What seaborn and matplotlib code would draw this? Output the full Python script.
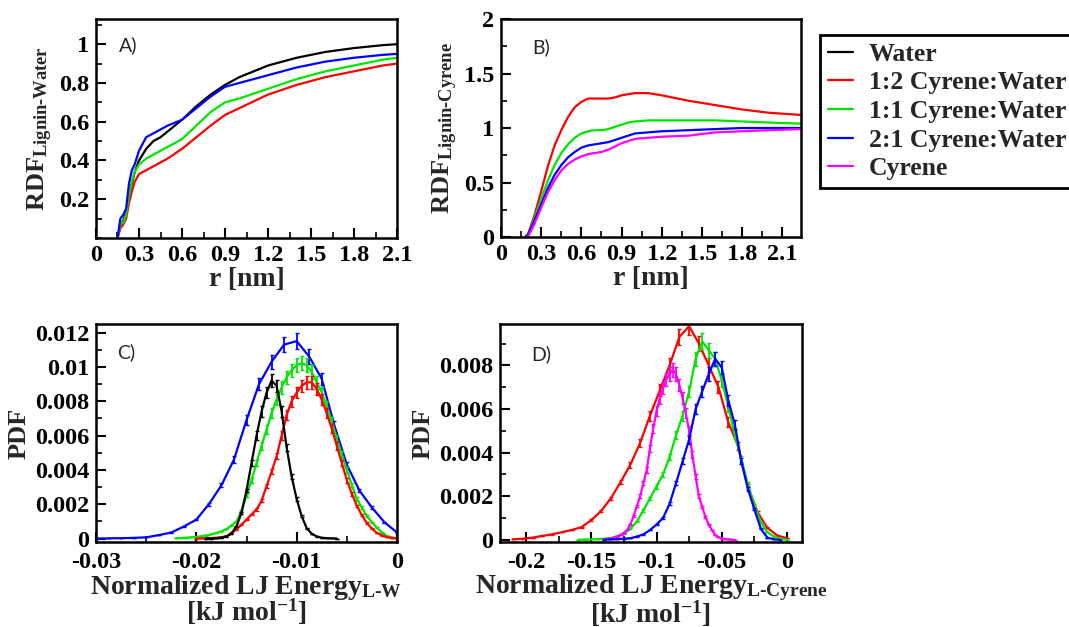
import numpy as np
import matplotlib
matplotlib.use("Agg")
import matplotlib.pyplot as plt
import seaborn as sns
from matplotlib.lines import Line2D
from matplotlib.ticker import MultipleLocator, FuncFormatter

# Lignin solvation: RDFs (top) and normalized LJ energy PDFs (bottom)

labels = ["Water", "1:2 Cyrene:Water", "1:1 Cyrene:Water", "2:1 Cyrene:Water", "Cyrene"]
colors = ["black", "#ff0000", "#00e600", "#0000ff", "#ff00ff"]

# A) RDF lignin-water
r_a = [0.15, 0.17, 0.19, 0.21, 0.23, 0.25, 0.27, 0.30, 0.35, 0.40, 0.45, 0.50,
       0.60, 0.70, 0.80, 0.90, 1.00, 1.20, 1.40, 1.60, 1.80, 2.00, 2.10]
rdf_a_water = [0, 0.06, 0.09, 0.13, 0.22, 0.28, 0.34, 0.40, 0.46, 0.50, 0.52, 0.55,
               0.61, 0.68, 0.74, 0.79, 0.83, 0.89, 0.93, 0.96, 0.98, 0.995, 1.0]
rdf_a_12 = [0, 0.05, 0.07, 0.10, 0.18, 0.24, 0.29, 0.33, 0.35, 0.37, 0.39, 0.41,
            0.46, 0.52, 0.58, 0.635, 0.67, 0.74, 0.79, 0.83, 0.86, 0.89, 0.90]
rdf_a_11 = [0, 0.07, 0.08, 0.12, 0.22, 0.29, 0.34, 0.38, 0.41, 0.43, 0.45, 0.47,
            0.51, 0.58, 0.65, 0.70, 0.72, 0.77, 0.82, 0.86, 0.89, 0.92, 0.93]
rdf_a_21 = [0, 0.10, 0.12, 0.15, 0.28, 0.35, 0.38, 0.45, 0.52, 0.54, 0.56, 0.58,
            0.61, 0.67, 0.73, 0.78, 0.80, 0.84, 0.88, 0.91, 0.93, 0.945, 0.95]

# B) RDF lignin-cyrene
r_b = [0.18, 0.20, 0.25, 0.30, 0.35, 0.40, 0.45, 0.50, 0.55, 0.60, 0.65, 0.70, 0.75,
       0.80, 0.85, 0.90, 0.95, 1.00, 1.10, 1.20, 1.40, 1.60, 1.80, 2.00, 2.24]
rdf_b_12 = [0, 0.02, 0.20, 0.42, 0.65, 0.84, 0.98, 1.10, 1.19, 1.24, 1.27, 1.27, 1.27,
            1.27, 1.28, 1.30, 1.31, 1.32, 1.32, 1.30, 1.25, 1.21, 1.17, 1.14, 1.12]
rdf_b_11 = [0, 0.02, 0.17, 0.35, 0.52, 0.66, 0.77, 0.85, 0.91, 0.95, 0.97, 0.98, 0.98,
            0.99, 1.01, 1.03, 1.05, 1.06, 1.07, 1.07, 1.07, 1.07, 1.06, 1.05, 1.04]
rdf_b_21 = [0, 0.02, 0.15, 0.30, 0.45, 0.57, 0.66, 0.73, 0.78, 0.82, 0.84, 0.85, 0.86,
            0.87, 0.89, 0.91, 0.93, 0.95, 0.96, 0.97, 0.98, 0.99, 1.0, 1.0, 1.0]
rdf_b_cyr = [0, 0.0, 0.12, 0.27, 0.41, 0.52, 0.61, 0.67, 0.71, 0.74, 0.76, 0.77, 0.78,
             0.80, 0.83, 0.86, 0.88, 0.90, 0.91, 0.92, 0.93, 0.96, 0.97, 0.98, 0.99]

# C) PDF of normalized LJ energy lignin-water (values in units of 1e-3)
e_c_water = [-0.019, -0.0185, -0.018, -0.0175, -0.017, -0.0165, -0.016, -0.0155, -0.015,
             -0.0145, -0.014, -0.0135, -0.013, -0.0125, -0.012, -0.0115, -0.011, -0.0105,
             -0.010, -0.0095, -0.009, -0.0085, -0.008, -0.0075, -0.007, -0.0065, -0.006]
pdf_c_water = [0, 0, 0.02, 0.05, 0.12, 0.3, 0.7, 1.5, 2.8, 4.4, 6.0, 7.4, 8.5, 9.2, 8.9,
               7.4, 5.3, 3.6, 2.3, 1.3, 0.6, 0.28, 0.12, 0.05, 0.02, 0.01, 0]
e_c_12 = [-0.020, -0.0195, -0.019, -0.0185, -0.018, -0.0175, -0.017, -0.0165, -0.016,
          -0.0155, -0.015, -0.0145, -0.014, -0.0135, -0.013, -0.0125, -0.012, -0.0115,
          -0.011, -0.0105, -0.010, -0.0095, -0.009, -0.0085, -0.008, -0.0075, -0.007,
          -0.0065, -0.006, -0.0055, -0.005, -0.0045, -0.004, -0.0035, -0.003, -0.0025,
          -0.002, -0.0015, -0.001, -0.0005, 0.0]
pdf_c_12 = [0, 0.01, 0.02, 0.03, 0.05, 0.08, 0.14, 0.3, 0.54, 0.8, 1.1, 1.4, 1.7, 2.2,
            3.05, 3.9, 4.8, 6.0, 7.2, 8.0, 8.5, 8.9, 9.1, 9.1, 8.7, 8.1, 7.3, 6.4, 5.4,
            4.4, 3.4, 2.6, 1.9, 1.35, 0.9, 0.58, 0.33, 0.18, 0.08, 0.03, 0.01]
e_c_11 = [-0.022, -0.0215, -0.021, -0.0205, -0.020, -0.0195, -0.019, -0.0185, -0.018,
          -0.0175, -0.017, -0.0165, -0.016, -0.0155, -0.015, -0.0145, -0.014, -0.0135,
          -0.013, -0.0125, -0.012, -0.0115, -0.011, -0.0105, -0.010, -0.0095, -0.009,
          -0.0085, -0.008, -0.0075, -0.007, -0.0065, -0.006, -0.0055, -0.005, -0.0045,
          -0.004, -0.0035, -0.003, -0.0025, -0.002, -0.0015, -0.001, -0.0005, 0.0]
pdf_c_11 = [0.02, 0.03, 0.05, 0.07, 0.1, 0.13, 0.18, 0.25, 0.33, 0.42, 0.55, 0.75, 1.0,
            1.6, 2.5, 3.4, 4.4, 5.4, 6.35, 7.3, 8.1, 8.8, 9.4, 9.8, 10.1, 10.2, 10.1,
            9.7, 9.1, 8.5, 7.7, 6.8, 5.8, 4.9, 4.0, 3.1, 2.3, 1.8, 1.3, 0.95, 0.62,
            0.35, 0.15, 0.06, 0.02]
e_c_21 = [-0.03, -0.02875, -0.0275, -0.02625, -0.025, -0.02375, -0.0225, -0.02125,
          -0.02, -0.01875, -0.0175, -0.01625, -0.015, -0.01375, -0.0125, -0.01125,
          -0.01, -0.00875, -0.0075, -0.00625, -0.005, -0.00375, -0.0025, -0.00125, 0.0]
pdf_c_21 = [0.0, 0.01, 0.02, 0.04, 0.07, 0.2, 0.35, 0.7, 1.1, 2.0, 3.1, 4.6, 6.9, 9.0,
            10.3, 11.3, 11.5, 10.6, 9.3, 6.6, 4.3, 2.8, 1.8, 0.95, 0.35]

# D) PDF of normalized LJ energy lignin-cyrene (values in units of 1e-3)
e_d_12 = [-0.21, -0.2025, -0.195, -0.1875, -0.18, -0.1725, -0.165, -0.1575, -0.15,
          -0.1425, -0.135, -0.1275, -0.12, -0.1125, -0.105, -0.0975, -0.09, -0.0825,
          -0.075, -0.0675, -0.06, -0.0525, -0.045, -0.0375, -0.03, -0.0225, -0.015,
          -0.0075, 0.0]
pdf_d_12 = [0.02, 0.05, 0.1, 0.18, 0.25, 0.35, 0.45, 0.58, 0.9, 1.32, 1.9, 2.65, 3.45,
            4.45, 5.7, 6.85, 8.0, 9.3, 9.8, 9.0, 8.0, 7.0, 5.4, 4.3, 2.45, 1.25, 0.55,
            0.2, 0.07]
e_d_11 = [-0.16, -0.155, -0.15, -0.145, -0.14, -0.135, -0.13, -0.125, -0.12, -0.115,
          -0.11, -0.105, -0.1, -0.095, -0.09, -0.085, -0.08, -0.075, -0.07, -0.065,
          -0.06, -0.055, -0.05, -0.045, -0.04, -0.035, -0.03, -0.025, -0.02, -0.015,
          -0.01, -0.005, 0.0]
pdf_d_11 = [0.0, 0.01, 0.02, 0.03, 0.05, 0.08, 0.17, 0.3, 0.5, 0.85, 1.35, 1.9, 2.45,
            3.0, 3.8, 4.8, 5.7, 6.8, 8.3, 9.1, 8.7, 8.3, 7.3, 6.1, 4.8, 3.7, 2.55, 1.6,
            0.8, 0.35, 0.15, 0.05, 0.01]
e_d_21 = [-0.14, -0.135, -0.13, -0.125, -0.12, -0.115, -0.11, -0.105, -0.1, -0.095,
          -0.09, -0.085, -0.08, -0.075, -0.07, -0.065, -0.06, -0.055, -0.05, -0.045,
          -0.04, -0.035, -0.03, -0.025, -0.02, -0.015, -0.01, -0.005]
pdf_d_21 = [0.01, 0.02, 0.03, 0.05, 0.07, 0.15, 0.25, 0.45, 0.7, 1.0, 1.65, 2.6, 3.6,
            4.6, 6.0, 6.8, 7.6, 8.3, 7.9, 6.4, 5.3, 3.6, 2.35, 1.4, 0.5, 0.1, 0.02, 0.0]
e_d_cyr = [-0.14, -0.1375, -0.135, -0.1325, -0.13, -0.1275, -0.125, -0.1225, -0.12,
           -0.1175, -0.115, -0.1125, -0.11, -0.1075, -0.105, -0.1025, -0.1, -0.0975,
           -0.095, -0.0925, -0.09, -0.0875, -0.085, -0.0825, -0.08, -0.0775, -0.075,
           -0.0725, -0.07, -0.0675, -0.065, -0.0625, -0.06, -0.0575, -0.055, -0.0525,
           -0.05, -0.0475, -0.045, -0.0425, -0.04]
pdf_d_cyr = [0.02, 0.04, 0.06, 0.1, 0.15, 0.22, 0.32, 0.45, 0.7, 1.1, 1.55, 2.0, 2.6,
             3.2, 4.2, 5.1, 5.9, 6.5, 6.95, 7.35, 7.6, 7.8, 7.6, 7.1, 6.5, 5.8, 5.0, 3.9,
             2.9, 2.0, 1.5, 1.05, 0.7, 0.45, 0.22, 0.12, 0.06, 0.03, 0.02, 0.01, 0.0]

# relative size of the error bars (fraction of the PDF value)
err_frac = 0.04

sns.set_theme(style="ticks")
plt.rcParams["font.family"] = ["Liberation Serif", "DejaVu Serif"]
plt.rcParams["font.weight"] = "bold"
plt.rcParams["axes.labelweight"] = "bold"
plt.rcParams["mathtext.fontset"] = "custom"
plt.rcParams["mathtext.rm"] = "Liberation Serif:bold"
plt.rcParams["mathtext.it"] = "Liberation Serif:bold"
plt.rcParams["mathtext.bf"] = "Liberation Serif:bold"

fig = plt.figure(figsize=(10.69, 6.27), dpi=100)
ax_a = fig.add_axes([0.0898, 0.6204, 0.2816, 0.3493])
ax_b = fig.add_axes([0.4687, 0.6220, 0.2806, 0.3477])
ax_c = fig.add_axes([0.0898, 0.1356, 0.2816, 0.3477])
ax_d = fig.add_axes([0.4677, 0.1356, 0.2825, 0.3477])


def fmt(v, pos):
    if abs(v) < 1e-12:
        return "0"
    return f"{v:g}"


def style_axes(ax):
    for s in ax.spines.values():
        s.set_color("black")
        s.set_linewidth(1.8)
    ax.tick_params(which="both", direction="in", colors="black", top=False, right=False)
    ax.tick_params(which="major", length=7, width=1.5, labelsize=17.5, pad=5)
    ax.tick_params(which="minor", length=4, width=1.2)
    ax.xaxis.set_major_formatter(FuncFormatter(fmt))
    ax.yaxis.set_major_formatter(FuncFormatter(fmt))


def line(ax, x, y, c):
    sns.lineplot(x=x, y=y, color=c, ax=ax, linewidth=1.6, estimator=None, sort=False)


def pdf_line(ax, x, y, c):
    y = np.array(y) * 1e-3
    line(ax, x, y, c)
    ax.errorbar(x, y, yerr=err_frac * y, fmt="none", ecolor=c, elinewidth=1.3,
                capsize=1.5, capthick=1.0)


# A
for y, c in zip([rdf_a_water, rdf_a_12, rdf_a_11, rdf_a_21], colors[:4]):
    line(ax_a, r_a, y, c)
ax_a.set_xlim(0, 2.1)
ax_a.set_ylim(0, 1.13)
ax_a.set_yticks([0.2, 0.4, 0.6, 0.8, 1.0])
ax_a.xaxis.set_major_locator(MultipleLocator(0.3))
ax_a.xaxis.set_minor_locator(MultipleLocator(0.15))
ax_a.yaxis.set_minor_locator(MultipleLocator(0.1))
ax_a.set_xlabel("r [nm]", fontsize=20, labelpad=1)
ax_a.set_ylabel(r"RDF$_{\text{Lignin-Water}}$", fontsize=19, labelpad=3)

# B
for y, c in zip([rdf_b_12, rdf_b_11, rdf_b_21, rdf_b_cyr], colors[1:]):
    line(ax_b, r_b, y, c)
ax_b.set_xlim(0, 2.24)
ax_b.set_ylim(0, 2)
ax_b.set_yticks([0, 0.5, 1, 1.5, 2])
ax_b.xaxis.set_major_locator(MultipleLocator(0.3))
ax_b.xaxis.set_minor_locator(MultipleLocator(0.15))
ax_b.yaxis.set_minor_locator(MultipleLocator(0.25))
ax_b.set_xlabel("r [nm]", fontsize=20, labelpad=1)
ax_b.set_ylabel(r"RDF$_{\text{Lignin-Cyrene}}$", fontsize=19, labelpad=3)

# C
pdf_line(ax_c, e_c_21, pdf_c_21, colors[3])
pdf_line(ax_c, e_c_11, pdf_c_11, colors[2])
pdf_line(ax_c, e_c_12, pdf_c_12, colors[1])
pdf_line(ax_c, e_c_water, pdf_c_water, colors[0])
ax_c.set_xlim(-0.03, 0)
ax_c.set_ylim(-0.0002, 0.0125)
ax_c.set_yticks([0, 0.002, 0.004, 0.006, 0.008, 0.01, 0.012])
ax_c.set_xticks([-0.03, -0.02, -0.01, 0])
ax_c.xaxis.set_minor_locator(MultipleLocator(0.005))
ax_c.yaxis.set_minor_locator(MultipleLocator(0.001))
ax_c.set_xlabel("Normalized LJ Energy$_{\\text{L-W}}$\n[kJ mol$^{-1}$]",
                fontsize=20, labelpad=0, linespacing=0.8)
ax_c.set_ylabel("PDF", fontsize=19, labelpad=3)

# D
pdf_line(ax_d, e_d_12, pdf_d_12, colors[1])
pdf_line(ax_d, e_d_11, pdf_d_11, colors[2])
pdf_line(ax_d, e_d_cyr, pdf_d_cyr, colors[4])
pdf_line(ax_d, e_d_21, pdf_d_21, colors[3])
ax_d.set_xlim(-0.22, 0.0115)
ax_d.set_ylim(-0.0001, 0.0099)
ax_d.set_yticks([0, 0.002, 0.004, 0.006, 0.008])
ax_d.set_xticks([-0.2, -0.15, -0.1, -0.05, 0])
ax_d.xaxis.set_minor_locator(MultipleLocator(0.025))
ax_d.yaxis.set_minor_locator(MultipleLocator(0.001))
ax_d.set_xlabel("Normalized LJ Energy$_{\\text{L-Cyrene}}$\n[kJ mol$^{-1}$]",
                fontsize=20, labelpad=0, linespacing=0.8)
ax_d.set_ylabel("PDF", fontsize=19, labelpad=3)

for ax, tag, pos in [(ax_a, "A)", (0.075, 0.88)), (ax_b, "B)", (0.105, 0.87)),
                     (ax_c, "C)", (0.07, 0.87)), (ax_d, "D)", (0.105, 0.86))]:
    style_axes(ax)
    ax.text(pos[0], pos[1], tag, transform=ax.transAxes, fontsize=14,
            fontfamily="Lato", fontweight="normal", ha="left", va="center")

# a bit more room under the energy panels so "0" and "-0.03" stay apart
for ax in (ax_c, ax_d):
    ax.tick_params(axis="x", which="major", pad=7)

handles = [Line2D([], [], color=c, linewidth=1.6) for c in colors]
leg = fig.legend(handles, labels, loc="upper left", bbox_to_anchor=(0.767, 0.944),
                 frameon=True, fancybox=False, edgecolor="black", fontsize=18.5,
                 handlelength=1.0, handletextpad=0.6, labelspacing=0.22,
                 borderpad=0.3, borderaxespad=0)
leg.get_frame().set_linewidth(2)
leg.get_frame().set_alpha(1)

fig.savefig("out.png", dpi=100)
